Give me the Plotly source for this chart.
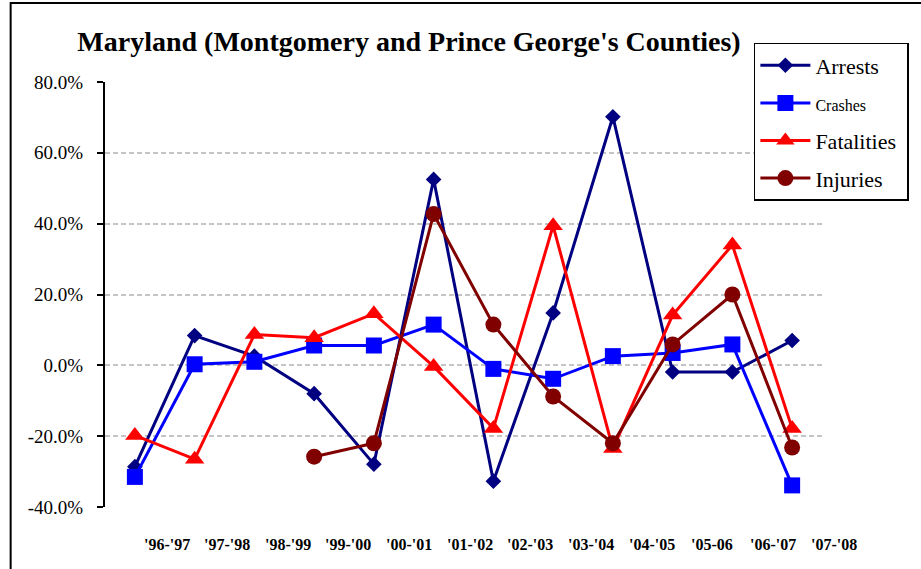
import plotly.graph_objects as go

# ---- data ----
periods = ["'96-'97", "'97-'98", "'98-'99", "'99-'00", "'00-'01", "'01-'02",
           "'02-'03", "'03-'04", "'04-'05", "'05-06", "'06-'07", "'07-'08"]
arrests = [-28.6, 8.4, 2.6, -8.0, -27.9, 52.5, -32.7, 14.8, 70.2, -1.9, -1.9, 7.0]
crashes = [-31.5, 0.3, 1.0, 5.6, 5.6, 11.5, -1.0, -3.8, 2.6, 3.5, 5.9, -33.9]
fatalities = [-19.8, -26.5, 8.7, 7.8, 14.6, -0.3, -17.8, 39.4, -23.5, 14.2, 34.0, -17.8]
injuries = [None, None, None, -25.8, -22.0, 42.7, 11.5, -8.8, -22.0, 5.9, 20.0, -23.2]

y_tickvals = [-40, -20, 0, 20, 40, 60, 80]
y_ticktext = ["-40.0%", "-20.0%", "0.0%", "20.0%", "40.0%", "60.0%", "80.0%"]

FONT = "Liberation Serif, Times New Roman, serif"
idx = list(range(len(periods)))
n = len(periods)

fig = go.Figure()
series = [
    ("Arrests", arrests, "#000080", "diamond", 12),
    ("<span style='font-size:16px'>Crashes</span>", crashes, "#0000FF", "square", 16),
    ("Fatalities\u00a0", fatalities, "#FF0000", "triangle-up", 17),
    ("Injuries", injuries, "#800000", "circle", 16),
]
for i, (name, vals, col, sym, sz) in enumerate(series):
    fig.add_trace(go.Scatter(
        x=idx, y=vals, name=name, mode="lines+markers",
        line=dict(color=col, width=3),
        marker=dict(symbol=sym, size=sz, color=col),
        legendgroup=str(i), connectgaps=False, cliponaxis=False,
    ))

# x category labels (offset about half a slot to the right, as in the original)
for i, lab in enumerate(periods):
    pos = 0.53 + 1.015 * i
    fig.add_annotation(x=(pos + 0.5) / n, y=-0.089, xref="paper", yref="paper",
                       text="<b>" + lab + "</b>", showarrow=False,
                       font=dict(family=FONT, size=16, color="black"),
                       xanchor="center", yanchor="middle")

# outer chart frame
fig.add_shape(type="rect", xref="paper", yref="paper",
              x0=-0.1316, x1=1.2, y0=-0.3, y1=1.1859,
              line=dict(color="black", width=2), layer="below")

fig.update_layout(
    width=921, height=569,
    margin=dict(l=105, r=94, t=82, b=62),
    paper_bgcolor="white", plot_bgcolor="white",
    font=dict(family=FONT, color="black"),
    title=dict(text="<b>Maryland (Montgomery and Prince George's Counties)</b>",
               font=dict(family=FONT, size=28, color="black"),
               x=0.424, xref="paper", xanchor="center",
               y=1 - 41 / 569, yref="container", yanchor="middle"),
    xaxis=dict(range=[-0.5, 11.5], showgrid=False, zeroline=False,
               showline=False, showticklabels=False, ticks=""),
    yaxis=dict(range=[-40, 80], tickvals=y_tickvals, ticktext=y_ticktext,
               showline=True, linecolor="black", linewidth=2,
               ticks="outside", ticklen=6, tickwidth=2, tickcolor="black",
               showgrid=True, gridcolor="#C4C4C4", gridwidth=1.5, griddash="5px,3px",
               zeroline=False, ticklabelstandoff=10,
               tickfont=dict(family=FONT, size=19, color="black")),
    legend=dict(x=0.905, y=1.0918, xanchor="left", yanchor="top",
                bgcolor="white", bordercolor="black", borderwidth=1.5,
                font=dict(family=FONT, size=22, color="black"),
                tracegroupgap=6, itemwidth=50),
    showlegend=True,
)

fig.write_html("out.html", config={"displayModeBar": False},
               post_script="document.body.style.margin='0';")
